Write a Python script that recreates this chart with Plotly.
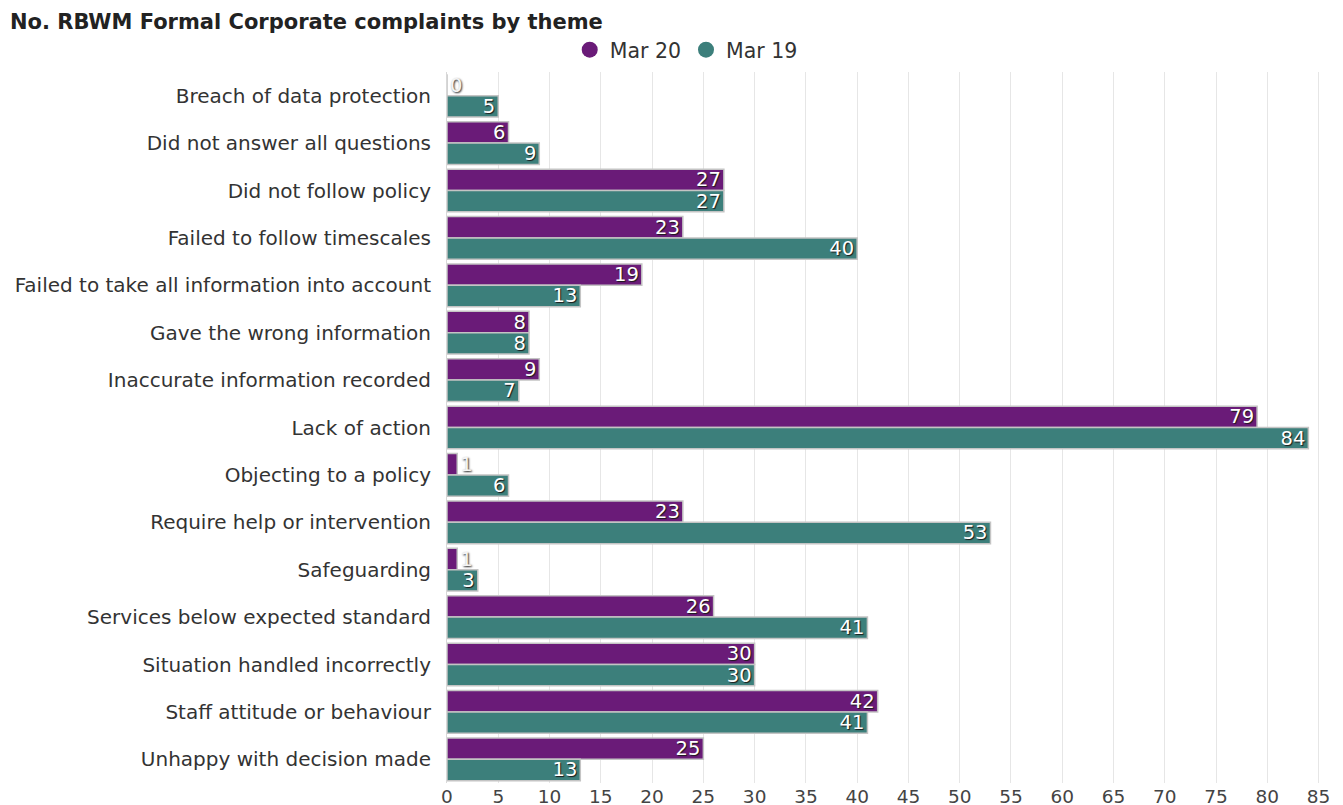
import plotly.graph_objects as go

categories = [
    "Breach of data protection",
    "Did not answer all questions",
    "Did not follow policy",
    "Failed to follow timescales",
    "Failed to take all information into account",
    "Gave the wrong information",
    "Inaccurate information recorded",
    "Lack of action",
    "Objecting to a policy",
    "Require help or intervention",
    "Safeguarding",
    "Services below expected standard",
    "Situation handled incorrectly",
    "Staff attitude or behaviour",
    "Unhappy with decision made",
]
mar20 = [0, 6, 27, 23, 19, 8, 9, 79, 1, 23, 1, 26, 30, 42, 25]
mar19 = [5, 9, 27, 40, 13, 8, 7, 84, 6, 53, 3, 41, 30, 41, 13]
tick_vals = list(range(0, 90, 5))

FONT = "DejaVu Sans"
COL20 = "#6a1b78"
COL19 = "#3c7f7b"
bar_font = dict(family=FONT, size=19.5, color="white", shadow="1px 1px 1px #1a1a1a")
out_font = dict(family=FONT, size=19.5, color="#f4f4f4", shadow="1px 1px 2px #222")

fig = go.Figure()
for name, vals, col in [("Mar 20", mar20, COL20), ("Mar 19", mar19, COL19)]:
    fig.add_trace(go.Bar(
        y=categories, x=vals, name=name, orientation="h", showlegend=False,
        marker=dict(color=col, line=dict(color="#c4c4c4", width=1.5)),
        text=[str(v) for v in vals],
        textposition=["inside" if v >= 3 else "outside" for v in vals],
        insidetextanchor="end", textangle=0, constraintext="none",
        insidetextfont=bar_font, outsidetextfont=out_font,
        cliponaxis=False,
    ))
    # legend entry with circle marker
    fig.add_trace(go.Scatter(
        x=[None], y=[None], mode="markers", name=name,
        marker=dict(symbol="circle", size=19, color=col),
        showlegend=True, hoverinfo="skip",
    ))

fig.update_layout(
    width=1343, height=805,
    paper_bgcolor="white", plot_bgcolor="white",
    barmode="group", bargap=0.1, bargroupgap=0.0,
    margin=dict(l=439, r=17, t=64, b=30),
    title=dict(text="<b>No. RBWM Formal Corporate complaints by theme</b>",
               x=0.0015, xanchor="left", xref="container",
               y=0.983, yanchor="middle", yref="container",
               font=dict(family=FONT, size=21, color="#222")),
    legend=dict(orientation="h", xref="container", yref="container",
                x=0.505, xanchor="center", y=0.948, yanchor="middle",
                font=dict(family=FONT, size=20.5, color="#333"),
                itemwidth=30, traceorder="normal",
                tracegroupgap=0, bgcolor="rgba(0,0,0,0)"),
    xaxis=dict(range=[0, 86.5], tickvals=tick_vals, showgrid=True, gridcolor="#e6e6e6",
               zeroline=False, tickfont=dict(family=FONT, size=18.5, color="#444"),
               ticks="", showline=False, automargin=False),
    yaxis=dict(autorange="reversed", tickfont=dict(family=FONT, size=20, color="#333"),
               showline=True, linecolor="#d8d8d8", ticks="outside", ticklen=11,
               tickcolor="rgba(0,0,0,0)", automargin=False),
    font=dict(family=FONT),
)
fig.write_html("out.html")
